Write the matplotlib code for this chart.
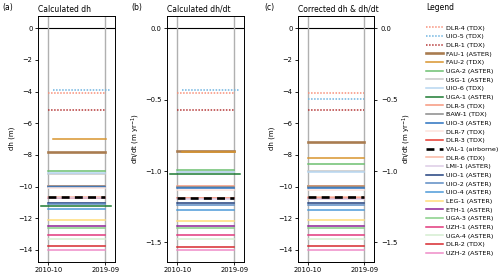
import matplotlib
matplotlib.use("Agg")
import matplotlib.pyplot as plt
import matplotlib.dates as mdates
import numpy as np
import pandas as pd

# datasets, in legend order (sorted by corrected dh/dt)
names = [
    "DLR-4 (TDX)", "UIO-5 (TDX)", "DLR-1 (TDX)", "FAU-1 (ASTER)", "FAU-2 (TDX)",
    "UGA-2 (ASTER)", "USG-1 (ASTER)", "UIO-6 (TDX)", "UGA-1 (ASTER)", "DLR-5 (TDX)",
    "BAW-1 (TDX)", "UIO-3 (ASTER)", "DLR-7 (TDX)", "DLR-3 (TDX)", "VAL-1 (airborne)",
    "DLR-6 (TDX)", "LMI-1 (ASTER)", "UIO-1 (ASTER)", "UIO-2 (ASTER)", "UIO-4 (ASTER)",
    "LEG-1 (ASTER)", "ETH-1 (ASTER)", "UGA-3 (ASTER)", "UZH-1 (ASTER)", "UGA-4 (ASTER)",
    "DLR-2 (TDX)", "UZH-2 (ASTER)",
]
colors = [
    "#f8907a", "#6fb4e0", "#b53838", "#a97c50", "#d8952e",
    "#6cc070", "#c8c8c8", "#b6d6f0", "#1d7a32", "#f7977d",
    "#8a8a8a", "#2a72c0", "#fde3dc", "#e83a30", "black",
    "#f9b7a2", "#dccbe6", "#20407e", "#5d8cc4", "#4d9ad8",
    "#ffdc7a", "#8e2196", "#86cf86", "#e2387c", "#d5edd1",
    "#d7282d", "#ef8cc8",
]

# observation periods (panels a and b)
start = ["2010-10"] * len(names)
end = ["2019-09"] * len(names)
start[1], end[1] = "2011-07", "2020-08"   # UIO-5
start[4], end[4] = "2011-07", "2019-11"   # FAU-2
start[8], end[8] = "2009-08", "2020-08"   # UGA-1

# calculated dh (m)
dh = [
    -4.07, -3.92, -5.16, -7.81, -6.99,
    -9.01, -9.20, -9.17, -11.22, -9.94,
    -9.97, -10.02, -10.10, -10.70, -10.64,
    -10.64, -10.72, -11.04, -11.12, -11.42,
    -12.13, -12.47, -12.60, -13.08, -13.29,
    -13.73, -13.98,
]
# calculated dh/dt (m/yr)
dhdt = [
    -0.451, -0.435, -0.573, -0.858, -0.866,
    -0.993, -1.007, -1.005, -1.021, -1.107,
    -1.112, -1.119, -1.131, -1.192, -1.187,
    -1.187, -1.196, -1.224, -1.238, -1.276,
    -1.348, -1.383, -1.402, -1.451, -1.479,
    -1.530, -1.554,
]
# corrected dh/dt (m/yr), common period 2010-10 to 2019-09
dhdt_corr = [
    -0.451, -0.493, -0.572, -0.794, -0.910,
    -0.952, -0.999, -1.004, -1.104, -1.106,
    -1.112, -1.118, -1.130, -1.190, -1.183,
    -1.183, -1.195, -1.223, -1.237, -1.272,
    -1.345, -1.382, -1.399, -1.450, -1.476,
    -1.527, -1.550,
]

T = 9.02  # years between common dates (axis ratio)
dotted = {"DLR-4 (TDX)", "UIO-5 (TDX)", "DLR-1 (TDX)"}

plt.rcParams["font.family"] = "DejaVu Sans"
plt.rcParams["axes.linewidth"] = 0.7

fig = plt.figure(figsize=(5.0, 2.79), dpi=100)
ax_a = fig.add_axes([0.076, 0.062, 0.154, 0.881])
ax_b = fig.add_axes([0.334, 0.062, 0.154, 0.881])
ax_c = fig.add_axes([0.596, 0.062, 0.152, 0.881])

t0 = pd.Timestamp("2010-10-01")
t1 = pd.Timestamp("2019-09-01")
xlim = (pd.Timestamp("2009-02-20"), pd.Timestamp("2021-03-20"))
ylim_dh = (-14.75, 0.78)


def style(name):
    if name in dotted:
        return dict(ls=(0, (1, 1)), lw=1.1, zorder=2)
    if name.startswith("VAL"):
        return dict(ls=(0, (3, 2)), lw=1.9, zorder=4)
    if name.startswith("FAU-1"):
        return dict(ls="-", lw=1.9, zorder=2)
    return dict(ls="-", lw=1.1, zorder=2)


def base(ax):
    ax.axhline(0, color="black", lw=0.8, zorder=1)
    ax.set_xlim(xlim)
    ax.set_xticks([t0, t1])
    ax.xaxis.set_major_formatter(mdates.DateFormatter("%Y-%m"))
    ax.grid(axis="x", color="#b0b0b0", lw=1.0)
    ax.tick_params(labelsize=4.9, length=2.5, width=0.6, pad=1.5)


for i, n in enumerate(names):
    s = pd.Timestamp(start[i])
    e = pd.Timestamp(end[i])
    ax_a.plot([s, e], [dh[i], dh[i]], color=colors[i], label=n, **style(n))
    ax_b.plot([s, e], [dhdt[i], dhdt[i]], color=colors[i], **style(n))
    ax_c.plot([t0, t1], [dhdt_corr[i] * T, dhdt_corr[i] * T], color=colors[i], **style(n))

for ax in (ax_a, ax_b, ax_c):
    base(ax)

ax_a.set_ylim(ylim_dh)
ax_a.set_yticks(np.arange(0, -15, -2))
ax_a.set_ylabel("dh (m)", fontsize=5, labelpad=2)
ax_a.set_title("Calculated dh", loc="left", fontsize=5.5, pad=3)

ax_b.set_ylim(ylim_dh[0] / T, ylim_dh[1] / T)
ax_b.set_yticks([0.0, -0.5, -1.0, -1.5])
ax_b.set_ylabel("dh/dt (m yr$^{-1}$)", fontsize=5, labelpad=2)
ax_b.set_title("Calculated dh/dt", loc="left", fontsize=5.5, pad=3)

ax_c.set_ylim(ylim_dh)
ax_c.set_yticks(np.arange(0, -15, -2))
ax_c.set_ylabel("dh (m)", fontsize=5, labelpad=2)
ax_c.set_title("Corrected dh & dh/dt", loc="left", fontsize=5.5, pad=3)
ax_c2 = ax_c.twinx()
ax_c2.set_ylim(ylim_dh[0] / T, ylim_dh[1] / T)
ax_c2.set_yticks([0.0, -0.5, -1.0, -1.5])
ax_c2.tick_params(labelsize=4.9, length=2.5, width=0.6, pad=2.5)
ax_c2.set_ylabel("dh/dt (m yr$^{-1}$)", fontsize=5, labelpad=2)

fig.text(0.004, 0.965, "(a)", fontsize=5.5)
fig.text(0.262, 0.965, "(b)", fontsize=5.5)
fig.text(0.528, 0.965, "(c)", fontsize=5.5)

# legend title drawn separately (larger gap above the entries)
fig.text(0.853, 0.965, "Legend", fontsize=5.5)
handles, labels = ax_a.get_legend_handles_labels()
fig.legend(handles, labels, loc="upper left", bbox_to_anchor=(0.851, 0.912),
           frameon=False, fontsize=4.6, handlelength=2.6, handletextpad=0.5,
           labelspacing=0.5, borderaxespad=0, borderpad=0.1)

fig.savefig("out.png", dpi=100)
